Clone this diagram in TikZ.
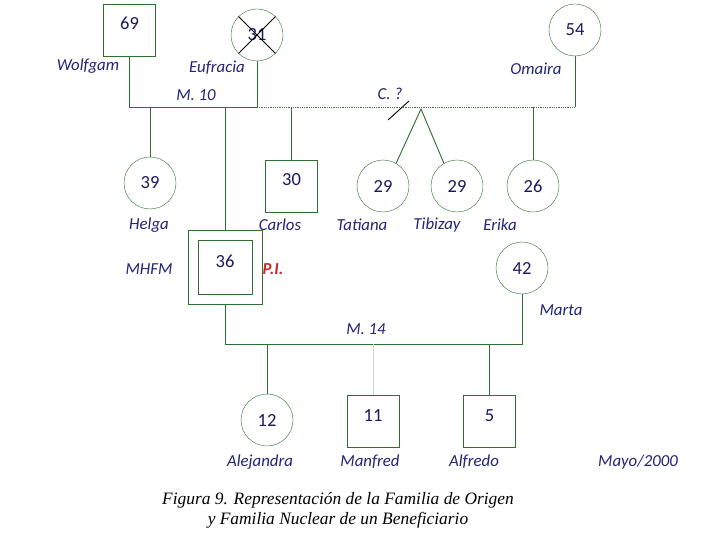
\documentclass[tikz,border=0pt]{standalone}
\usepackage{fontspec}
\setmainfont{Carlito}
\newfontfamily\capfont{Liberation Serif}
\usetikzlibrary{calc}
\definecolor{famgreen}{RGB}{46,110,46}
\definecolor{namenavy}{RGB}{35,35,120}
\definecolor{numnavy}{RGB}{25,25,95}
\definecolor{pired}{RGB}{200,40,40}
\tikzset{%
male/.style={draw=famgreen,rectangle,minimum size=52pt,inner sep=0pt,outer sep=0pt,
             font=\fontsize{18.5}{20}\selectfont,text=numnavy,text height=13pt,text depth=13pt},
female/.style={draw=famgreen,circle,minimum size=52pt,inner sep=0pt,outer sep=0pt,
             font=\fontsize{18.5}{20}\selectfont,text=numnavy},
pname/.style={font=\fontsize{16.8}{18}\selectfont\itshape,text=namenavy,inner sep=0pt},
rel/.style={famgreen,line width=0.9pt},
unk/.style={famgreen!60!gray,line width=0.8pt,densely dotted},
slash/.style={black,line width=0.9pt}
}
\begin{document}
\begin{tikzpicture}[x=1pt,y=-1pt]
\useasboundingbox[fill=white] (0,0) rectangle (720,540);
%% origin family
\node[male]   (Wolfgam)  at (129.5,30) {69};
\node[female] (Eufracia) at (257,35)   {31};
\node[female] (Omaira)   at (575,30)   {54};
\draw[slash] (Eufracia.north east) -- (Eufracia.south west);
\draw[slash] (Eufracia.north west) -- (Eufracia.south east);
%%
\node[female] (Helga)   at (150,183) {39};
\node[male]   (Carlos)  at (291.5,186) {30};
\node[female] (Tatiana) at (383,186) {29};
\node[female] (Tibizay) at (457,186) {29};
\node[female] (Erika)   at (533,186) {26};
%%
\node[male,minimum size=74pt] (MHFMout) at (225,267.5) {};
\node[male,minimum size=54pt] (MHFM)    at (225,267.5) {36};
\node[female] (Marta) at (522,268) {42};
%%
\node[female] (Alejandra) at (267,420) {12};
\node[male]   (Manfred)   at (373,421) {11};
\node[male]   (Alfredo)   at (489.5,421) {5};
%%%%%%%%%%%%%%
%% names
\node[pname] (nWolfgam)   at (88,66)   {Wolfgam};
\node[pname] (nEufracia)  at (217,68)  {Eufracia};
\node[pname] (nOmaira)    at (536,69)  {Omaira};
\node[pname] (nM10)       at (196,95)  {M. 10};
\node[pname] (nC)         at (390,94)  {C. ?};
\node[pname] (nHelga)     at (149,225) {Helga};
\node[pname] (nCarlos)    at (280,225) {Carlos};
\node[pname] (nTatiana)   at (362,225) {Tatiana};
\node[pname] (nTibizay)   at (437,225) {Tibizay};
\node[pname] (nErika)     at (500,225) {Erika};
\node[pname] (nMHFM)      at (149,269) {MHFM};
\node[pname,text=pired,font=\fontsize{16.8}{18}\selectfont\bfseries\itshape] (nPI) at (273,269) {P.I.};
\node[pname] (nMarta)     at (561,310) {Marta};
\node[pname] (nM14)       at (366,329) {M. 14};
\node[pname] (nAlejandra) at (260,462) {Alejandra};
\node[pname] (nManfred)   at (370,462) {Manfred};
\node[pname] (nAlfredo)   at (474,462) {Alfredo};
\node[pname] (nMayo)      at (638,462) {Mayo/2000};
%%
\node[font=\capfont\fontsize{17.4}{20}\selectfont\itshape,align=center,inner sep=0pt] (caption)
     at (338,510) {Figura 9. Representación de la Familia de Origen\\y Familia Nuclear de un Beneficiario};
%%%%%%%%%%%%%%
%% connectors
\coordinate (m10)  at (0,107);
\coordinate (twin) at (421,109);
\coordinate (m14)  at (0,344);
%%
\draw[rel] (Wolfgam) |- (m10 -| Eufracia) -- (Eufracia);
\draw[unk] (m10 -| Eufracia) -- (m10 -| Omaira);
\draw[rel] (Omaira) -- (m10 -| Omaira);
\draw[slash] ($(twin)+(-33,11)$) -- ($(twin)+(-12,-8)$);
%%
\draw[rel] (m10 -| Helga)   -- (Helga);
\draw[rel] (m10 -| MHFM)    -- (MHFMout);
\draw[rel] (m10 -| Carlos)  -- (Carlos);
\draw[rel] (m10 -| Erika)   -- (Erika);
\draw[rel] (Tatiana.60) -- (twin) -- (Tibizay.120);
%%
\draw[rel] (MHFMout) |- (m14 -| Marta) -- (Marta);
\draw[rel] (m14 -| Alejandra) -- (Alejandra);
\draw[rel,famgreen!25] (m14 -| Manfred) -- (Manfred);
\draw[rel] (m14 -| Alfredo) -- (Alfredo);
\end{tikzpicture}
\end{document}
